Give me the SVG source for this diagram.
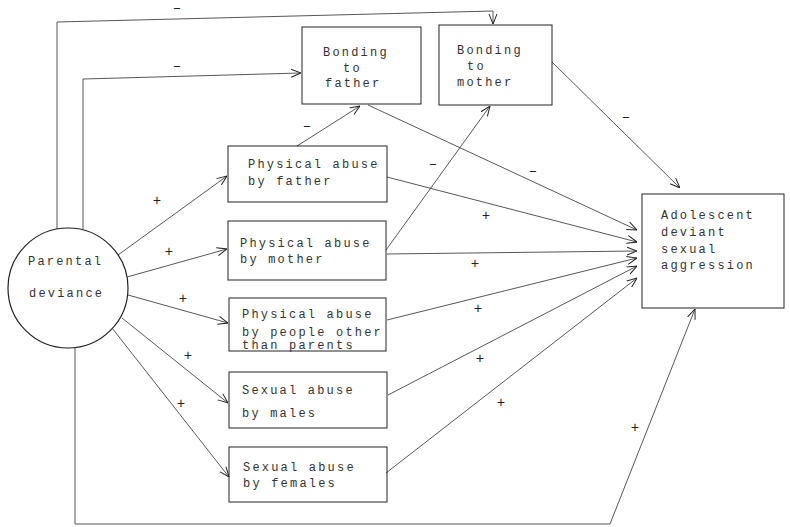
<svg xmlns="http://www.w3.org/2000/svg" width="790" height="527" viewBox="0 0 790 527">
<style>
.box{fill:none;stroke:#222;stroke-width:1}
.t{font-family:"Liberation Mono",monospace;font-size:12px;fill:#333;letter-spacing:2.2px}
.c{fill:none;stroke:#444;stroke-width:0.9}
.s{font-family:"Liberation Mono",monospace;font-size:14px;fill:#222;text-anchor:middle}
</style>
<defs>
<marker id="a" viewBox="0 0 10 10" refX="10" refY="5" markerWidth="10" markerHeight="10" markerUnits="userSpaceOnUse" orient="auto">
<path d="M0,1 L10,5 L0,9" fill="none" stroke="#222" stroke-width="1"/>
</marker>
</defs>
<rect width="790" height="527" fill="#fff"/>
<g id="connectors">
<path class="c" d="M57,229 L57,22 L493,11 L493,24" marker-end="url(#a)"/>
<path class="c" d="M83,229 L83,79 L301,73" marker-end="url(#a)"/>
<path class="c" d="M75,347 L75,524 L610,524 L695,309" marker-end="url(#a)"/>
<path class="c" d="M118,255 L227,176" marker-end="url(#a)"/>
<path class="c" d="M127,277 L227,249" marker-end="url(#a)"/>
<path class="c" d="M128,295 L228,323" marker-end="url(#a)"/>
<path class="c" d="M122,318 L228,403" marker-end="url(#a)"/>
<path class="c" d="M112,328 L229,477" marker-end="url(#a)"/>
<path class="c" d="M297,146 L360,106" marker-end="url(#a)"/>
<path class="c" d="M386,250 L490,106" marker-end="url(#a)"/>
<path class="c" d="M368,105 L637,230" marker-end="url(#a)"/>
<path class="c" d="M552,62 L680,188" marker-end="url(#a)"/>
<path class="c" d="M387,177 L637,242" marker-end="url(#a)"/>
<path class="c" d="M387,254 L637,251" marker-end="url(#a)"/>
<path class="c" d="M387,320 L637,258" marker-end="url(#a)"/>
<path class="c" d="M388,395 L637,266" marker-end="url(#a)"/>
<path class="c" d="M386,473 L637,278" marker-end="url(#a)"/>
<text class="s" x="177" y="12">–</text>
<text class="s" x="177" y="70">–</text>
<text class="s" x="307" y="130">–</text>
<text class="s" x="433" y="168">–</text>
<text class="s" x="533" y="175">–</text>
<text class="s" x="626" y="121">–</text>
<text class="s" x="157" y="205">+</text>
<text class="s" x="169" y="256">+</text>
<text class="s" x="183" y="303">+</text>
<text class="s" x="188" y="360">+</text>
<text class="s" x="181" y="408">+</text>
<text class="s" x="486" y="220">+</text>
<text class="s" x="475" y="268">+</text>
<text class="s" x="478" y="313">+</text>
<text class="s" x="480" y="363">+</text>
<text class="s" x="501" y="407">+</text>
<text class="s" x="635" y="432">+</text>
</g>
<g id="parental-deviance">
<circle cx="68" cy="288" r="60" fill="#fff" stroke="#222" stroke-width="1.2"/>
<text class="t" x="28" y="265">Parental</text>
<text class="t" x="29" y="297">deviance</text>
</g>
<g id="bonding-father">
<rect class="box" x="302" y="27" width="119" height="77"/>
<text class="t" x="323" y="56">Bonding</text>
<text class="t" x="343" y="72">to</text>
<text class="t" x="325" y="87">father</text>
</g>
<g id="bonding-mother">
<rect class="box" x="439" y="25" width="113" height="80"/>
<text class="t" x="457" y="54">Bonding</text>
<text class="t" x="467" y="70">to</text>
<text class="t" x="457" y="86">mother</text>
</g>
<g id="physical-father">
<rect class="box" x="228" y="146" width="159" height="56"/>
<text class="t" x="248" y="168">Physical abuse</text>
<text class="t" x="248" y="185">by father</text>
</g>
<g id="physical-mother">
<rect class="box" x="228" y="221" width="158" height="59"/>
<text class="t" x="240" y="247">Physical abuse</text>
<text class="t" x="240" y="263">by mother</text>
</g>
<g id="physical-other">
<rect class="box" x="229" y="298" width="157" height="53"/>
<text class="t" x="242" y="318">Physical abuse</text>
<text class="t" x="242" y="336">by people other</text>
<text class="t" x="242" y="349">than parents</text>
</g>
<g id="sexual-males">
<rect class="box" x="229" y="372" width="158" height="56"/>
<text class="t" x="242" y="394">Sexual abuse</text>
<text class="t" x="242" y="417">by males</text>
</g>
<g id="sexual-females">
<rect class="box" x="229" y="447" width="158" height="55"/>
<text class="t" x="243" y="471">Sexual abuse</text>
<text class="t" x="243" y="487">by females</text>
</g>
<g id="adolescent">
<rect class="box" x="642" y="194" width="142" height="114"/>
<text class="t" x="661" y="219">Adolescent</text>
<text class="t" x="661" y="236">deviant</text>
<text class="t" x="661" y="253">sexual</text>
<text class="t" x="661" y="269">aggression</text>
</g>
</svg>
